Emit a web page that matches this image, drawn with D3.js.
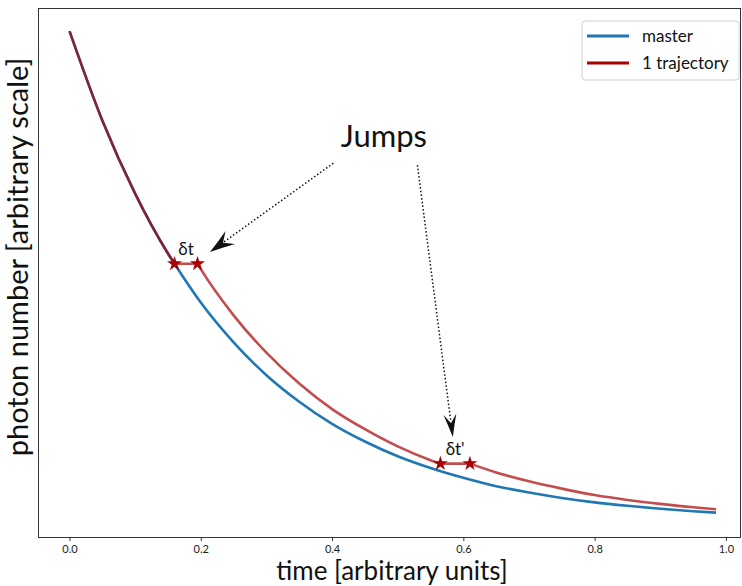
<!DOCTYPE html>
<html>
<head>
<meta charset="utf-8">
<script src="https://cdn.jsdelivr.net/npm/d3@7"></script>
<style>
  body { margin: 0; background: #fff; }
  svg { display: block; font-family: Lato, "Open Sans", sans-serif; }
</style>
</head>
<body>
<svg id="chart" width="742" height="586"></svg>
<script>
// values (photon number in arbitrary units)
const masterTime = [0, 0.05, 0.1, 0.15, 0.16, 0.2, 0.25, 0.3, 0.35, 0.4, 0.45, 0.5, 0.55, 0.6, 0.65, 0.7, 0.75, 0.8, 0.85, 0.9, 0.95, 0.985];
const masterValue = [10.0, 8.18, 6.69, 5.47, 5.26, 4.47, 3.66, 2.99, 2.45, 2.0, 1.64, 1.34, 1.1, 0.9, 0.73, 0.6, 0.49, 0.4, 0.33, 0.27, 0.22, 0.19];

const trajTime = [0, 0.05, 0.1, 0.15, 0.16, 0.195, 0.2, 0.25, 0.3, 0.35, 0.4, 0.45, 0.5, 0.55, 0.565, 0.61, 0.65, 0.7, 0.75, 0.8, 0.85, 0.9, 0.95, 0.985];
const trajValue = [10.0, 8.18, 6.69, 5.47, 5.26, 5.26, 5.15, 4.21, 3.45, 2.82, 2.3, 1.89, 1.54, 1.26, 1.19, 1.19, 1.01, 0.83, 0.68, 0.55, 0.45, 0.37, 0.3, 0.26];

// each jump: the trajectory stays flat between start and end
const jumpStart = [0.16, 0.565];
const jumpEnd = [0.195, 0.61];
const jumpLabels = ["δt", "δt'"];

const xTicks = [0.0, 0.2, 0.4, 0.6, 0.8, 1.0];
const seriesNames = ["master", "1 trajectory"];

const width = 742, height = 586;
const margin = {left: 38, right: 1, top: 8, bottom: 49};

const svg = d3.select('#chart');

const x = d3.scaleLinear()
  .domain([-0.048, 1.023])
  .range([margin.left, width - margin.right]);

const y = d3.scaleLinear()
  .domain([-0.305, 10.47])
  .range([height - margin.bottom, margin.top]);

const blue = '#1f77b4';
const red = '#aa0000';

// x axis
const xAxis = svg.append('g')
  .attr('transform', `translate(0,${height - margin.bottom})`)
  .call(d3.axisBottom(x).tickValues(xTicks).tickFormat(d3.format('.1f')).tickSize(4).tickPadding(4));
xAxis.select('.domain').remove();
xAxis.selectAll('line').attr('stroke', '#333');
xAxis.selectAll('text')
  .attr('font-size', 11)
  .attr('fill', '#222')
  .style('font-family', '"Liberation Sans Narrow", Lato, sans-serif');

// frame
svg.append('rect')
  .attr('x', margin.left)
  .attr('y', margin.top)
  .attr('width', width - margin.left - margin.right - 0.5)
  .attr('height', height - margin.top - margin.bottom)
  .attr('fill', 'none')
  .attr('stroke', '#333')
  .attr('stroke-width', 1)
  .attr('shape-rendering', 'crispEdges');

// axis labels
svg.append('text')
  .attr('x', 392)
  .attr('y', 580)
  .attr('text-anchor', 'middle')
  .attr('font-size', 26)
  .attr('fill', '#111')
  .text('time [arbitrary units]');

svg.append('text')
  .attr('transform', 'translate(28,257) rotate(-90)')
  .attr('text-anchor', 'middle')
  .attr('font-size', 29)
  .attr('fill', '#111')
  .text('photon number [arbitrary scale]');

const line = d3.line()
  .x(d => x(d[0]))
  .y(d => y(d[1]))
  .curve(d3.curveMonotoneX);

// master
const masterPoints = masterTime.map((t, i) => [t, masterValue[i]]);
svg.append('path')
  .attr('d', line(masterPoints))
  .attr('fill', 'none')
  .attr('stroke', blue)
  .attr('stroke-width', 2.6);

// trajectory, split at the jump edges so the corners stay sharp
const trajPoints = trajTime.map((t, i) => [t, trajValue[i]]);
const cuts = [...jumpStart, ...jumpEnd].sort((a, b) => a - b);
let segments = [];
let current = [];
trajPoints.forEach(p => {
  current.push(p);
  if (cuts.includes(p[0])) {
    segments.push(current);
    current = [p];
  }
});
segments.push(current);

svg.append('path')
  .attr('d', segments.map(s => line(s)).join(''))
  .attr('fill', 'none')
  .attr('stroke', red)
  .attr('stroke-opacity', 0.7)
  .attr('stroke-width', 2.6)
  .attr('stroke-linejoin', 'round');

// star markers at the jump edges
const star = d3.symbol().type(d3.symbolStar).size(70);
const valueAt = t => trajValue[trajTime.indexOf(t)];
jumpStart.forEach((t0, i) => {
  [t0, jumpEnd[i]].forEach(t => {
    svg.append('path')
      .attr('d', star())
      .attr('transform', `translate(${x(t)},${y(valueAt(t))})`)
      .attr('fill', red);
  });
  svg.append('text')
    .attr('x', x((t0 + jumpEnd[i]) / 2))
    .attr('y', y(valueAt(t0)) - 9)
    .attr('text-anchor', 'middle')
    .attr('font-size', 17)
    .attr('fill', '#111')
    .text(jumpLabels[i]);
});

// annotation
svg.append('text')
  .attr('x', x(0.479))
  .attr('y', y(7.63))
  .attr('text-anchor', 'middle')
  .attr('font-size', 31)
  .attr('fill', '#111')
  .text('Jumps');

const arrows = [
  {from: [0.402, 7.31], to: [0.214, 5.5], head: 25, half: 8},
  {from: [0.53, 7.27], to: [0.584, 1.73], head: 23, half: 6.5}
];

arrows.forEach(a => {
  const x0 = x(a.from[0]), y0 = y(a.from[1]);
  const x1 = x(a.to[0]), y1 = y(a.to[1]);
  const ang = Math.atan2(y1 - y0, x1 - x0);
  const len = Math.hypot(x1 - x0, y1 - y0);
  const h = a.head;
  const g = svg.append('g')
    .attr('transform', `translate(${x0},${y0}) rotate(${ang * 180 / Math.PI})`);
  g.append('line')
    .attr('x1', 0).attr('y1', 0)
    .attr('x2', len - h + 8).attr('y2', 0)
    .attr('stroke', '#111')
    .attr('stroke-width', 1.5)
    .attr('stroke-dasharray', '1.5,2.2');
  g.append('path')
    .attr('d', `M${len},0 Q${len - h * 0.55},${-a.half * 0.5} ${len - h},${-a.half} L${len - h + 9},0 L${len - h},${a.half} Q${len - h * 0.55},${a.half * 0.5} ${len},0 Z`)
    .attr('fill', '#111');
});

// legend
const legend = svg.append('g').attr('transform', 'translate(582,21)');
legend.append('rect')
  .attr('width', 157)
  .attr('height', 59)
  .attr('rx', 3)
  .attr('fill', '#fff')
  .attr('stroke', '#d0d0d0');
[blue, red].forEach((c, i) => {
  legend.append('line')
    .attr('x1', 5).attr('x2', 47)
    .attr('y1', 15 + i * 27).attr('y2', 15 + i * 27)
    .attr('stroke', c)
    .attr('stroke-width', 3);
  legend.append('text')
    .attr('x', 60)
    .attr('y', 21 + i * 27)
    .attr('font-size', 17)
    .attr('fill', '#111')
    .text(seriesNames[i]);
});
</script>
</body>
</html>
